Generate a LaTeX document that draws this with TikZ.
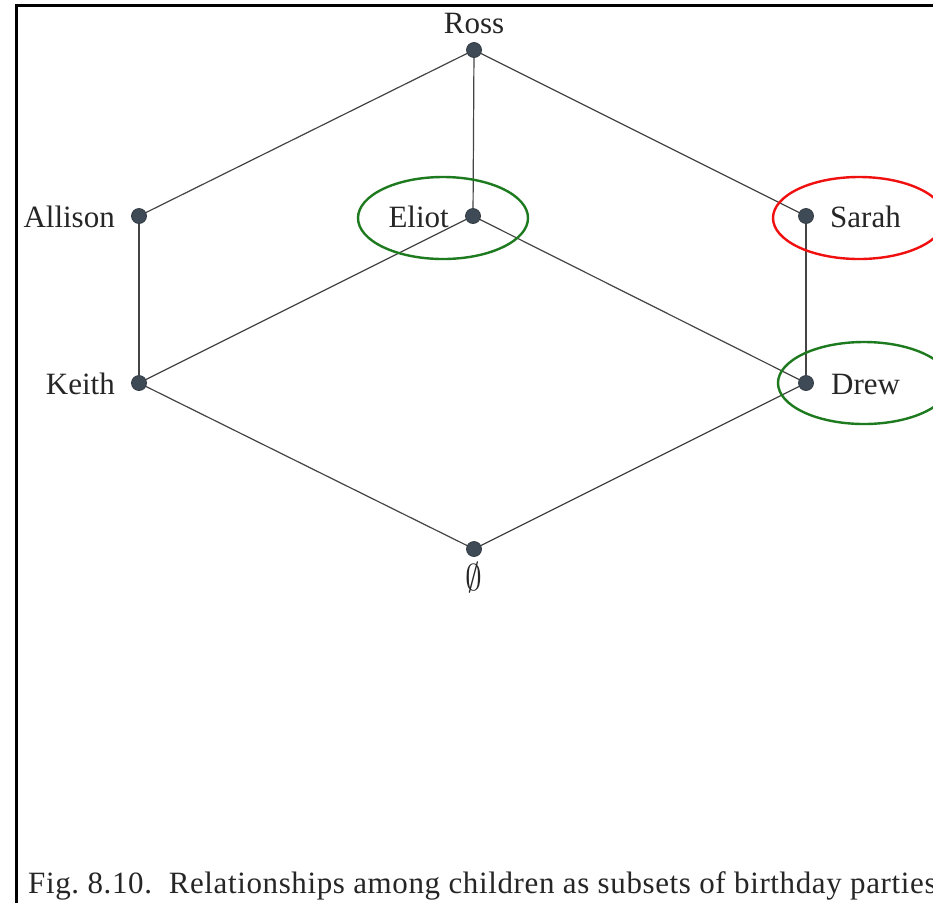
\documentclass[tikz,border=0pt]{standalone}
\usepackage{fontspec}
\usepackage{graphicx}
\setmainfont{Liberation Serif}
\begin{document}
\begin{tikzpicture}[x=1pt,y=-1pt,
  vertex/.style={circle,fill=dotgray,draw=dotgray!80!black,line width=0.8pt,inner sep=0pt,minimum size=15pt},
  edge/.style={draw=linegray,line width=1.2pt},
  lbl/.style={font=\fontsize{31}{36}\selectfont,inner sep=0pt,text=black!85},
  ring/.style={line width=2.4pt},
]
\definecolor{dotgray}{HTML}{3E4A55}
\definecolor{linegray}{HTML}{444444}
\definecolor{ringgreen}{HTML}{1E7A1E}
\definecolor{ringred}{HTML}{F01010}
\clip (0,0) rectangle (933,903);
\fill[white] (0,0) rectangle (933,903);
% page frame
\draw[line width=3pt] (16,903) -- (16,5) -- (940,5);

% lattice vertices
\node[vertex] (ross)    at (474,50)  {};
\node[vertex] (allison) at (139,216) {};
\node[vertex] (eliot)   at (473,216) {};
\node[vertex] (sarah)   at (806,216) {};
\node[vertex] (keith)   at (139,383) {};
\node[vertex] (drew)    at (806,383) {};
\node[vertex] (empty)   at (474,549) {};

% names
\node[lbl,anchor=base] (tross)    at (474,33)  {Ross};
\node[lbl,anchor=base east] (tallison) at (115,227) {Allison};
\node[lbl,anchor=base east] (teliot)   at (449,227) {Eliot};
\node[lbl,anchor=base west] (tsarah)   at (830,227) {Sarah};
\node[lbl,anchor=base east] (tkeith)   at (115,394) {Keith};
\node[lbl,anchor=base west] (tdrew)    at (831,394) {Drew};
\node[lbl,anchor=center] (tempty) at (474,578) {\scalebox{1.35}[1.5]{$\emptyset$}};

% covering relations
\draw[edge] (ross) -- (allison);
\draw[edge] (ross) -- (eliot);
\draw[edge] (ross) -- (sarah);
\draw[edge] (allison) -- (keith);
\draw[edge] (eliot) -- (keith);
\draw[edge] (eliot) -- (drew);
\draw[edge] (sarah) -- (drew);
\draw[edge] (keith) -- (empty);
\draw[edge] (drew) -- (empty);

% highlighted children
\draw[ring,draw=ringgreen] (443,218) ellipse [x radius=85, y radius=41];
\draw[ring,draw=ringred]   (859,218) ellipse [x radius=86, y radius=41];
\draw[ring,draw=ringgreen] (864,383) ellipse [x radius=86, y radius=41];

% caption
\node[lbl,anchor=base west,font=\fontsize{31}{36}\selectfont\addfontfeature{LetterSpace=2}] (caption) at (28,893)
  {Fig.\ 8.10.\ \ Relationships among children as subsets of birthday parties};
\end{tikzpicture}
\end{document}
